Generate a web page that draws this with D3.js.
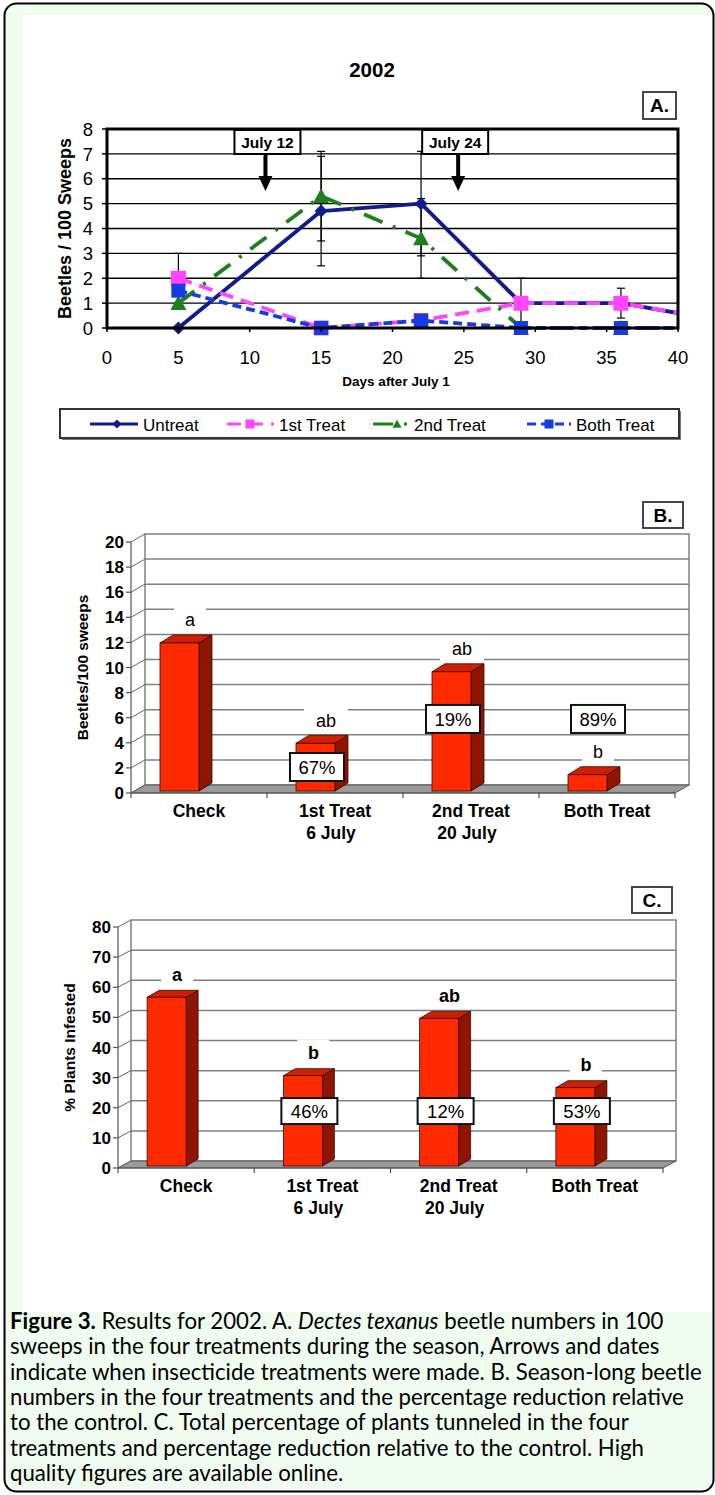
<!DOCTYPE html>
<html>
<head>
<meta charset="utf-8">
<script src="https://cdn.jsdelivr.net/npm/d3@7"></script>
<style>
  body { margin: 0; background: #fff; }
  svg { display: block; font-family: "Liberation Sans", Arimo, Helvetica, sans-serif; }
  .cap { font-family: Lato, "Noto Sans", sans-serif; }
</style>
</head>
<body>
<svg id="fig" width="715" height="1495"></svg>
<script>
// ----- Datos panel A (escarabajos / 100 barridos) -----
const days       = [5, 15, 22, 29, 36, 43];
const untreat    = [0, 4.7, 5.0, 1.0, 1.0, 0.3];
const treat1     = [2.0, 0, 0.3, 1.0, 1.0, 0.3];
const treat2     = [1.0, 5.3, 3.6, 0, 0, 0];
const treatBoth  = [1.5, 0, 0.3, 0, 0, 0];
const untreatErr = [0, 2.2, 2.1, 0, 0, 0];
const treat1Err  = [1.0, 0, 0, 1.0, 0.6, 0];
const treat2Err  = [0, 1.8, 1.6, 0, 0, 0];
const bothErr    = [0, 0, 0, 0, 0, 0];
const xTicksA    = [0, 5, 10, 15, 20, 25, 30, 35, 40];
const yTicksA    = [0, 1, 2, 3, 4, 5, 6, 7, 8];
const arrowDays  = [11.1, 24.6];
const arrowText  = ["July 12", "July 24"];

// ----- Datos paneles B y C -----
const barCats    = ["Check", "1st Treat", "2nd Treat", "Both Treat"];
const barSub     = ["", "6 July", "20 July", ""];
const beetles    = [11.8, 3.8, 9.5, 1.3];
const lettersB   = ["a", "ab", "ab", "b"];
const reductB    = ["", "67%", "19%", "89%"];
const reductBAt  = [0, 2.07, 5.9, 5.9];
const yTicksB    = [0, 2, 4, 6, 8, 10, 12, 14, 16, 18, 20];
const infested   = [56, 30, 49, 26];
const lettersC   = ["a", "b", "ab", "b"];
const reductC    = ["", "46%", "12%", "53%"];
const reductCAt  = [0, 18.9, 18.9, 18.9];
const yTicksC    = [0, 10, 20, 30, 40, 50, 60, 70, 80];

const svg = d3.select("#fig");

// ----- Fondo y marco -----
svg.append("rect").attr("width", 715).attr("height", 1495).attr("fill", "#fff");
svg.append("rect")
  .attr("x", 4.5).attr("y", 3.5).attr("width", 709).attr("height", 1488).attr("rx", 12)
  .attr("fill", "#effcef").attr("stroke", "#000").attr("stroke-width", 2);
svg.append("rect").attr("x", 23).attr("y", 15).attr("width", 689).attr("height", 1297).attr("fill", "#fff");

// Etiqueta de panel (A., B., C.)
function panelTag(g, x, y, w, h, txt) {
  g.append("rect").attr("x", x).attr("y", y).attr("width", w).attr("height", h)
    .attr("fill", "#fff").attr("stroke", "#333").attr("stroke-width", 1.8);
  g.append("text").attr("x", x + w / 2).attr("y", y + h / 2).attr("dy", "0.36em")
    .attr("text-anchor", "middle").attr("font-weight", "bold").attr("font-size", 19).text(txt);
}

// Marcadores
function markerPath(kind, s) {
  if (kind === "diamond") return `M0,${-s}L${s},0L0,${s}L${-s},0Z`;
  if (kind === "square") return `M${-s},${-s}H${s}V${s}H${-s}Z`;
  return `M0,${-s}L${s},${s * 0.85}L${-s},${s * 0.85}Z`;
}

// =================== Panel A ===================
const xA = d3.scaleLinear().domain([0, 40]).range([107, 678]);
const yA = d3.scaleLinear().domain([0, 8]).range([328, 129]);
const gA = svg.append("g");

gA.append("text").attr("x", 372).attr("y", 77).attr("text-anchor", "middle")
  .attr("font-weight", "bold").attr("font-size", 20.5).text("2002");
panelTag(gA, 643, 92, 33, 27, "A.");

// Rejilla
gA.selectAll(".gridA").data(yTicksA.filter(d => d > 0 && d < 8)).join("line")
  .attr("x1", xA(0)).attr("x2", xA(40))
  .attr("y1", d => yA(d)).attr("y2", d => yA(d))
  .attr("stroke", "#000").attr("stroke-width", 1.3);

const seriesA = [
  { name: "Untreat",    vals: untreat,   err: untreatErr, color: "#111b8c", dash: null,          marker: "diamond",  ms: 6.5 },
  { name: "1st Treat",  vals: treat1,    err: treat1Err,  color: "#ff45ff", dash: "14,8",        marker: "square",   ms: 7.5 },
  { name: "2nd Treat",  vals: treat2,    err: treat2Err,  color: "#1d7f1d", dash: "20,11,3,11",  marker: "triangle", ms: 8 },
  { name: "Both Treat", vals: treatBoth, err: bothErr,    color: "#163be3", dash: "9,5",         marker: "square",   ms: 7 }
];

// Barras de error
seriesA.forEach(s => {
  const eb = days.map((d, i) => ({ d, v: s.vals[i], e: s.err[i] })).filter(p => p.e > 0);
  const g = gA.append("g").attr("stroke", "#000").attr("stroke-width", 1.2);
  eb.forEach(p => {
    g.append("line").attr("x1", xA(p.d)).attr("x2", xA(p.d))
      .attr("y1", yA(p.v - p.e)).attr("y2", yA(p.v + p.e));
    [p.v - p.e, p.v + p.e].forEach(v => {
      g.append("line").attr("x1", xA(p.d) - 4).attr("x2", xA(p.d) + 4)
        .attr("y1", yA(v)).attr("y2", yA(v));
    });
  });
});

// Recorte al área del gráfico
svg.append("defs").append("clipPath").attr("id", "clipA")
  .append("rect").attr("x", 100).attr("y", 100).attr("width", 578.5).attr("height", 260);

const lineA = d3.line().x(d => xA(d[0])).y(d => yA(d[1]));
const plotA = gA.append("g").attr("clip-path", "url(#clipA)");
seriesA.forEach(s => {
  const pts = days.map((d, i) => [d, s.vals[i]]);
  plotA.append("path").datum(pts).attr("d", lineA)
    .attr("fill", "none").attr("stroke", s.color).attr("stroke-width", 3.8)
    .attr("stroke-dasharray", s.dash).attr("stroke-linejoin", "round");
  plotA.selectAll(null).data(pts).join("path")
    .attr("transform", d => `translate(${xA(d[0])},${yA(d[1])})`)
    .attr("d", markerPath(s.marker, s.ms)).attr("fill", s.color);
});

// Borde del gráfico
gA.append("rect").attr("x", xA(0)).attr("y", yA(8))
  .attr("width", xA(40) - xA(0)).attr("height", yA(0) - yA(8))
  .attr("fill", "none").attr("stroke", "#000").attr("stroke-width", 3);

// Ejes
gA.selectAll(".ytA").data(yTicksA).join("line")
  .attr("x1", xA(0) - 5).attr("x2", xA(0)).attr("y1", d => yA(d)).attr("y2", d => yA(d))
  .attr("stroke", "#000").attr("stroke-width", 1.5);
gA.selectAll(".ylA").data(yTicksA).join("text")
  .attr("x", 93).attr("y", d => yA(d)).attr("dy", "0.36em").attr("text-anchor", "end")
  .attr("font-size", 18.5).text(d => d);
gA.selectAll(".xtA").data(xTicksA).join("line")
  .attr("x1", d => xA(d)).attr("x2", d => xA(d)).attr("y1", yA(0)).attr("y2", yA(0) + 4)
  .attr("stroke", "#000").attr("stroke-width", 1.5);
gA.selectAll(".xlA").data(xTicksA).join("text")
  .attr("x", d => xA(d)).attr("y", 364).attr("text-anchor", "middle")
  .attr("font-size", 18.5).text(d => d);
gA.append("text").attr("x", 396).attr("y", 386).attr("text-anchor", "middle")
  .attr("font-weight", "bold").attr("font-size", 13.5).text("Days after July 1");
gA.append("text").attr("transform", `translate(65,${(yA(0) + yA(8)) / 2}) rotate(-90)`)
  .attr("dy", "0.36em").attr("text-anchor", "middle")
  .attr("font-weight", "bold").attr("font-size", 18).text("Beetles / 100 Sweeps");

// Flechas de tratamiento
const boxShift = [2, -3];
arrowDays.forEach((d, i) => {
  const ax = xA(d);
  const bx = ax + boxShift[i];
  gA.append("rect").attr("x", bx - 33).attr("y", 130).attr("width", 66).attr("height", 24)
    .attr("fill", "#fff").attr("stroke", "#000").attr("stroke-width", 2);
  gA.append("text").attr("x", bx).attr("y", 142).attr("dy", "0.36em").attr("text-anchor", "middle")
    .attr("font-weight", "bold").attr("font-size", 15.5).text(arrowText[i]);
  gA.append("rect").attr("x", ax - 2).attr("y", 154).attr("width", 4).attr("height", 23).attr("fill", "#000");
  gA.append("path").attr("d", `M${ax - 7},176L${ax + 7},176L${ax},191Z`).attr("fill", "#000");
});

// Leyenda
const legX = [90, 227, 373, 527];
const legLen = [48, 47, 36, 44];
const legMark = [27, 23, 24, 22];
const gL = svg.append("g");
gL.append("rect").attr("x", 62).attr("y", 411).attr("width", 619).attr("height", 29).attr("fill", "#777");
gL.append("rect").attr("x", 60).attr("y", 409).attr("width", 619).attr("height", 29)
  .attr("fill", "#fff").attr("stroke", "#333").attr("stroke-width", 2);
seriesA.forEach((s, i) => {
  gL.append("line").attr("x1", legX[i]).attr("x2", legX[i] + legLen[i]).attr("y1", 424).attr("y2", 424)
    .attr("stroke", s.color).attr("stroke-width", 3).attr("stroke-dasharray", s.dash);
  gL.append("path").attr("transform", `translate(${legX[i] + legMark[i]},424)`)
    .attr("d", markerPath(s.marker, 4.5)).attr("fill", s.color);
  gL.append("text").attr("x", legX[i] + legLen[i] + 5).attr("y", 425).attr("dy", "0.36em")
    .attr("font-size", 17).text(s.name);
});

// =================== Paneles B y C (barras 3D) ===================
function barPanel(cfg) {
  const g = svg.append("g");
  const { x0, x1, y0, yTop, max, dx, dy, ticks } = cfg;
  const xB = d3.scaleBand().domain(barCats).range([x0, x1]);
  const yB = d3.scaleLinear().domain([0, max]).range([y0, yTop]);
  const cx = c => xB(c) + xB.bandwidth() / 2;

  // Pared del fondo y rejilla
  g.append("rect").attr("x", x0 + dx).attr("y", yTop + dy)
    .attr("width", x1 - x0).attr("height", y0 - yTop)
    .attr("fill", "#fff").attr("stroke", "#808080").attr("stroke-width", 1.5);
  g.selectAll(".grid").data(ticks.filter(t => t > 0 && t < max)).join("line")
    .attr("x1", x0 + dx).attr("x2", x1 + dx)
    .attr("y1", d => yB(d) + dy).attr("y2", d => yB(d) + dy)
    .attr("stroke", "#808080").attr("stroke-width", 1.5);
  // Pared lateral
  g.selectAll(".side").data(ticks).join("line")
    .attr("x1", x0).attr("y1", d => yB(d)).attr("x2", x0 + dx).attr("y2", d => yB(d) + dy)
    .attr("stroke", "#666").attr("stroke-width", 1);
  g.append("line").attr("x1", x0).attr("x2", x0).attr("y1", yTop).attr("y2", y0)
    .attr("stroke", "#555").attr("stroke-width", 1.2);
  g.selectAll(".yt").data(ticks).join("line")
    .attr("x1", x0 - 5).attr("x2", x0).attr("y1", d => yB(d)).attr("y2", d => yB(d))
    .attr("stroke", "#555").attr("stroke-width", 1.2);
  g.selectAll(".yl").data(ticks).join("text")
    .attr("x", x0 - 7).attr("y", d => yB(d)).attr("dy", "0.36em").attr("text-anchor", "end")
    .attr("font-weight", "bold").attr("font-size", 17).text(d => d);

  // Suelo
  g.append("path").attr("d", `M${x0},${y0}L${x1},${y0}L${x1 + dx},${y0 + dy}L${x0 + dx},${y0 + dy}Z`)
    .attr("fill", "#9a9a9a").attr("stroke", "#555").attr("stroke-width", 1);
  g.append("line").attr("x1", x0).attr("x2", x1).attr("y1", y0).attr("y2", y0)
    .attr("stroke", "#555").attr("stroke-width", 1.2);
  g.selectAll(".xt").data(barCats.concat(["end"])).join("line")
    .attr("x1", (d, i) => x0 + i * xB.bandwidth()).attr("x2", (d, i) => x0 + i * xB.bandwidth())
    .attr("y1", y0).attr("y2", y0 + 5).attr("stroke", "#555").attr("stroke-width", 1.2);

  // Fondos blancos de las letras
  const letterY = (v) => yB(v) - 25;
  cfg.letters.forEach((l, i) => {
    const w = l.length > 1 ? 44 : 32;
    g.append("rect").attr("x", cx(barCats[i]) - 9 - w / 2).attr("y", letterY(cfg.values[i]) - 13)
      .attr("width", w).attr("height", 26).attr("fill", "#fff");
  });

  // Barras
  const bw = 39, bdx = dx - 1, bdy = dy;
  cfg.values.forEach((v, i) => {
    const c = cx(barCats[i]);
    const xl = c - bw, xr = c, yb = y0 - 2, yt = yB(v) - 2;
    g.append("path").attr("d", `M${xr},${yb}L${xr + bdx},${yb + bdy}L${xr + bdx},${yt + bdy}L${xr},${yt}Z`)
      .attr("fill", "#8e1600").attr("stroke", "#3a0800").attr("stroke-width", 0.8);
    g.append("path").attr("d", `M${xl},${yt}L${xl + bdx},${yt + bdy}L${xr + bdx},${yt + bdy}L${xr},${yt}Z`)
      .attr("fill", "#cc2000").attr("stroke", "#3a0800").attr("stroke-width", 0.8);
    g.append("rect").attr("x", xl).attr("y", yt).attr("width", bw).attr("height", yb - yt)
      .attr("fill", "#ff2a00").attr("stroke", "#3a0800").attr("stroke-width", 0.8);
  });

  // Letras de significación
  cfg.letters.forEach((l, i) => {
    g.append("text").attr("x", cx(barCats[i]) - 9).attr("y", letterY(cfg.values[i]))
      .attr("dy", "0.36em").attr("text-anchor", "middle")
      .attr("font-weight", cfg.letterBold ? "bold" : "normal").attr("font-size", 18).text(l);
  });

  // Cajas de reducción porcentual
  cfg.pct.forEach((p, i) => {
    if (!p) return;
    const bx = cx(barCats[i]) + cfg.pctShift[i];
    const by = yB(cfg.pctAt[i]);
    g.append("rect").attr("x", bx - cfg.pctW / 2).attr("y", by - cfg.pctH / 2)
      .attr("width", cfg.pctW).attr("height", cfg.pctH)
      .attr("fill", "#fff").attr("stroke", "#111").attr("stroke-width", 2);
    g.append("text").attr("x", bx).attr("y", by).attr("dy", "0.36em").attr("text-anchor", "middle")
      .attr("font-size", 18.5).text(p);
  });

  // Categorías
  barCats.forEach((c, i) => {
    g.append("text").attr("x", cx(c)).attr("y", y0 + 24).attr("text-anchor", "middle")
      .attr("font-weight", "bold").attr("font-size", 17.5).text(c);
    if (barSub[i]) {
      g.append("text").attr("x", cx(c) - 4).attr("y", y0 + 46).attr("text-anchor", "middle")
        .attr("font-weight", "bold").attr("font-size", 17.5).text(barSub[i]);
    }
  });

  g.append("text").attr("transform", `translate(${x0 - 49},${(y0 + yTop) / 2}) rotate(-90)`)
    .attr("dy", "0.36em").attr("text-anchor", "middle")
    .attr("font-weight", "bold").attr("font-size", 15.5).text(cfg.yTitle);
  panelTag(g, cfg.tag[0], cfg.tag[1], 40, 26, cfg.tag[2]);
}

barPanel({
  x0: 131, x1: 675, y0: 793, yTop: 542, max: 20, dx: 14, dy: -8, ticks: yTicksB,
  values: beetles, letters: lettersB, letterBold: false,
  pct: reductB, pctAt: reductBAt, pctShift: [0, -18, -18, -9], pctW: 54, pctH: 28,
  yTitle: "Beetles/100 sweeps", tag: [643, 502, "B."]
});
barPanel({
  x0: 118, x1: 663, y0: 1168, yTop: 927, max: 80, dx: 13, dy: -7, ticks: yTicksC,
  values: infested, letters: lettersC, letterBold: true,
  pct: reductC, pctAt: reductCAt, pctShift: [0, -13, -13, -13], pctW: 56, pctH: 26,
  yTitle: "% Plants Infested", tag: [632, 887, "C."]
});

// =================== Pie de figura ===================
const caption = [
  [{ t: "Figure 3.", b: true }, { t: " Results for 2002. A. " }, { t: "Dectes texanus", i: true }, { t: " beetle numbers in 100" }],
  [{ t: "sweeps in the four treatments during the season, Arrows and dates" }],
  [{ t: "indicate when insecticide treatments were made. B. Season-long beetle" }],
  [{ t: "numbers in the four treatments and the percentage reduction relative" }],
  [{ t: "to the control. C. Total percentage of plants tunneled in the four" }],
  [{ t: "treatments and percentage reduction relative to the control. High" }],
  [{ t: "quality figures are available online." }]
];
const capG = svg.append("g").attr("class", "cap").attr("font-size", 19);
const capLines = caption.map((parts, li) => {
  const t = capG.append("text").attr("x", 10).attr("y", 1329 + li * 25.3);
  parts.forEach(p => {
    t.append("tspan").attr("font-weight", p.b ? "bold" : null)
      .attr("font-style", p.i ? "italic" : null).text(p.t);
  });
  return t;
});
// Ajusta el tamaño para que la línea más larga ocupe el ancho original
const longest = capLines[2].node().getComputedTextLength();
capG.attr("font-size", 19 * 692 / longest);
</script>
</body>
</html>
